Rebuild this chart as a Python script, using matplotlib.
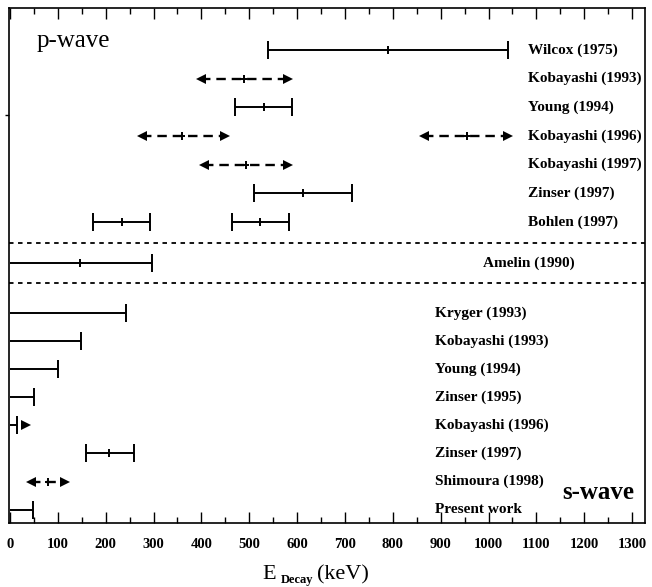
import matplotlib
matplotlib.use("Agg")
import matplotlib.pyplot as plt
import numpy as np

# ---------------- data ----------------
p_labels = ["Wilcox (1975)", "Kobayashi (1993)", "Young (1994)", "Kobayashi (1996)",
            "Kobayashi (1997)", "Zinser (1997)", "Bohlen (1997)"]
# p-wave segments: row index, low, centre, high, kind ('bar' or 'arrow')
p_row  = [0, 1, 2, 3, 3, 4, 5, 6, 6]
p_low  = [540, 390, 470, 265, 855, 395, 510, 174, 463]
p_mid  = [790, 490, 530, 360, 955, 493, 613, 235, 522]
p_high = [1040, 590, 590, 460, 1050, 590, 715, 293, 584]
p_kind = ["bar", "arrow", "bar", "arrow", "arrow", "arrow", "bar", "bar", "bar"]

amelin_label = "Amelin (1990)"
amelin_low, amelin_mid, amelin_high = 0, 146, 297

s_labels = ["Kryger (1993)", "Kobayashi (1993)", "Young (1994)", "Zinser (1995)",
            "Kobayashi (1996)", "Zinser (1997)", "Shimoura (1998)", "Present work"]
s_low  = [0, 0, 0, 0, 0, 159, 33, 0]
s_mid  = [None, None, None, None, None, 208, 79, None]
s_high = [242, 148, 101, 51, 14, 259, 125, 48]
s_kind = ["limit", "limit", "limit", "limit", "limit_arrow", "bar", "arrow", "limit"]
s_arrow_tip = 42   # arrow head for Kobayashi (1996) s-wave

x_ticks = list(range(0, 1301, 100))

# ---------------- layout ----------------
W, H = 652, 587
fig = plt.figure(figsize=(W / 100, H / 100), dpi=100)
ax = fig.add_axes([9 / W, 1 - 523 / H, (645 - 9) / W, (523 - 8) / H])

serif = "Liberation Serif"
plt.rcParams["font.family"] = serif

p_y = np.arange(len(p_labels), dtype=float)
amelin_y = 7.43
s_y = 9.17 + np.arange(len(s_labels)) * 0.981
sep_y = [6.73, 8.13]

ax.set_xlim(-2, 1327)
ax.set_ylim(16.5, -1.46)

lw = 1.4
cap_ms = 13
mid_ms = 6


def draw_bar(y, lo, mid, hi, left_cap=True):
    ax.plot([lo, hi], [y, y], color="black", lw=lw, solid_capstyle="butt")
    if left_cap:
        ax.plot([lo], [y], marker="|", ms=cap_ms, mew=lw, color="black")
    ax.plot([hi], [y], marker="|", ms=cap_ms, mew=lw, color="black")
    if mid is not None:
        ax.plot([mid], [y], marker="|", ms=mid_ms, mew=lw, color="black")


def draw_arrow(y, lo, mid, hi):
    ax.plot([lo + 10, hi - 10], [y, y], color="black", lw=1.7, ls=(0, (4, 2.5)))
    ax.plot([lo + 10], [y], marker="<", ms=7.5, color="black", mew=0)
    ax.plot([hi - 10], [y], marker=">", ms=7.5, color="black", mew=0)
    ax.plot([mid], [y], marker="|", ms=mid_ms, mew=lw, color="black")
    ax.plot([mid], [y], marker="_", ms=5, mew=lw, color="black")


for r, lo, mid, hi, k in zip(p_row, p_low, p_mid, p_high, p_kind):
    if k == "bar":
        draw_bar(p_y[r], lo, mid, hi)
    else:
        draw_arrow(p_y[r], lo, mid, hi)

draw_bar(amelin_y, amelin_low, amelin_mid, amelin_high, left_cap=False)

for y, lo, mid, hi, k in zip(s_y, s_low, s_mid, s_high, s_kind):
    if k == "bar":
        draw_bar(y, lo, mid, hi)
    elif k == "arrow":
        draw_arrow(y, lo, mid, hi)
    elif k == "limit":
        draw_bar(y, lo, mid, hi, left_cap=False)
    elif k == "limit_arrow":
        draw_bar(y, lo, mid, hi, left_cap=False)
        ax.plot([s_arrow_tip - 9], [y], marker=">", ms=7.5, color="black", mew=0)

for yy in sep_y:
    ax.axhline(yy, color="black", lw=1.3, ls=(0, (2.5, 2.5)))

lab_kw = dict(fontsize=11, fontweight="bold", family=serif, va="center", ha="left")
for y, t in zip(p_y, p_labels):
    ax.text(1083, y, t, **lab_kw)
ax.text(989, amelin_y, amelin_label, **lab_kw)
for y, t in zip(s_y, s_labels):
    ax.text(888, y, t, **lab_kw)

ax.text(28 / 636, 1 - (41 - 8) / 515, "p-wave", transform=ax.transAxes,
        fontsize=18, family=serif, va="center", ha="left")
ax.text((562 - 9) / 636, 1 - (492 - 8) / 515, "s-wave", transform=ax.transAxes,
        fontsize=18, family=serif, fontweight="bold", va="center", ha="left")

# ticks
ax.set_xticks(x_ticks)
ax.set_xticks(np.arange(50, 1301, 100), minor=True)
ax.tick_params(axis="x", which="major", direction="in", length=8, width=1,
               top=True, pad=11, labelsize=10.5)
ax.tick_params(axis="x", which="minor", direction="in", length=4, width=1, top=True)
for lbl in ax.get_xticklabels():
    lbl.set_fontweight("bold")
    lbl.set_family(serif)
ax.set_yticks([2.27])
ax.set_yticklabels([])
ax.tick_params(axis="y", direction="out", length=3, width=1)

for sp in ax.spines.values():
    sp.set_linewidth(1.2)

# axis label
fig.text(262 / W, 1 - 579 / H, "E", fontsize=16, family=serif, ha="left", va="baseline")
fig.text(281 / W, 1 - 583 / H, "Decay", fontsize=9, fontweight="bold", family=serif,
         ha="left", va="baseline")
fig.text(317 / W, 1 - 579 / H, "(keV)", fontsize=16, family=serif, ha="left", va="baseline")

fig.savefig("out.png", dpi=100)
